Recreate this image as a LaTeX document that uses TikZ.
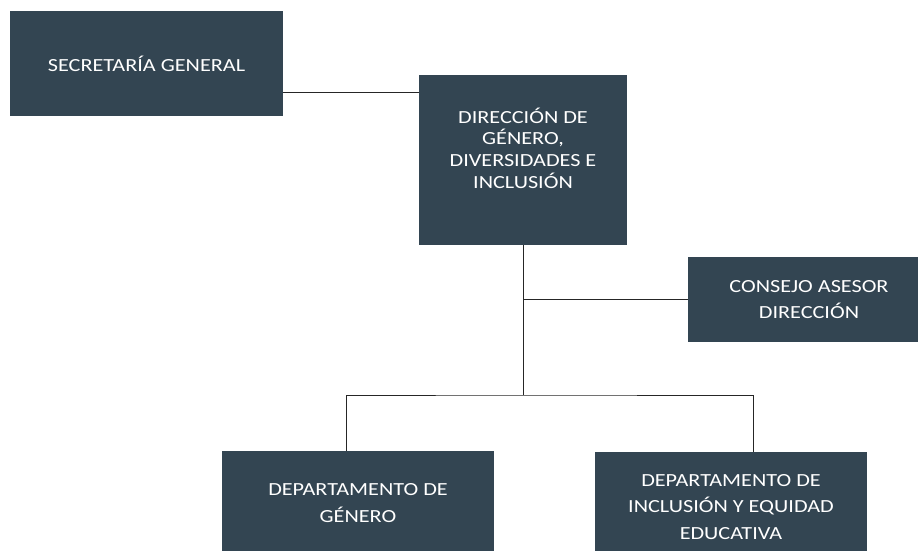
\documentclass[tikz,border=0pt]{standalone}
\usepackage{fontspec}
\setmainfont{Carlito}[FakeStretch=1.2]
\usetikzlibrary{calc}
\definecolor{myslate}{RGB}{51,69,82}
\colorlet{mylink}{black!85}
\tikzset{unit box/.style={fill=myslate,text=white,align=center,inner sep=0,
    font=\fontsize{18.5}{26.5}\selectfont}}
\tikzset{tight box/.style={unit box,font=\fontsize{18.5}{21.7}\selectfont}}
\tikzset{link/.style={mylink,line width=0.8}}

\begin{document}
\begin{tikzpicture}[x=1pt,y=-1pt]
  \useasboundingbox (0,0) rectangle (918,551);

  % UNITS
  \node[unit box,minimum width=273,minimum height=104] (sec) at (146.5,63.5)
      {SECRETARÍA GENERAL};
  \node[tight box,minimum width=208,minimum height=170,text depth=24pt] (dir) at (523,160)
      {DIRECCIÓN DE\\GÉNERO,\\DIVERSIDADES E\\INCLUSIÓN};
  \node[unit box,minimum width=242,minimum height=85] (consejo) at (809,299.5)
      {CONSEJO ASESOR\\DIRECCIÓN};
  \node[unit box,minimum width=272,minimum height=104] (depgen) at (358,503)
      {DEPARTAMENTO DE\\GÉNERO};
  \node[unit box,minimum width=272,minimum height=110] (depinc) at (731,507)
      {DEPARTAMENTO DE\\INCLUSIÓN Y EQUIDAD\\EDUCATIVA};

  % LINKS
  \coordinate (fork) at (523,395);
  \draw[link] ([yshift=-28.5pt]sec.east) coordinate (s1) -- (s1 -| dir.west);
  \draw[link] (dir.south) -- (fork);
  \draw[link] (consejo.west) -- (consejo.west -| dir.south);
  \draw[link] ([xshift=-12pt]depgen.north) |- (fork) -| ([xshift=22pt]depinc.north);
\end{tikzpicture}
\end{document}
